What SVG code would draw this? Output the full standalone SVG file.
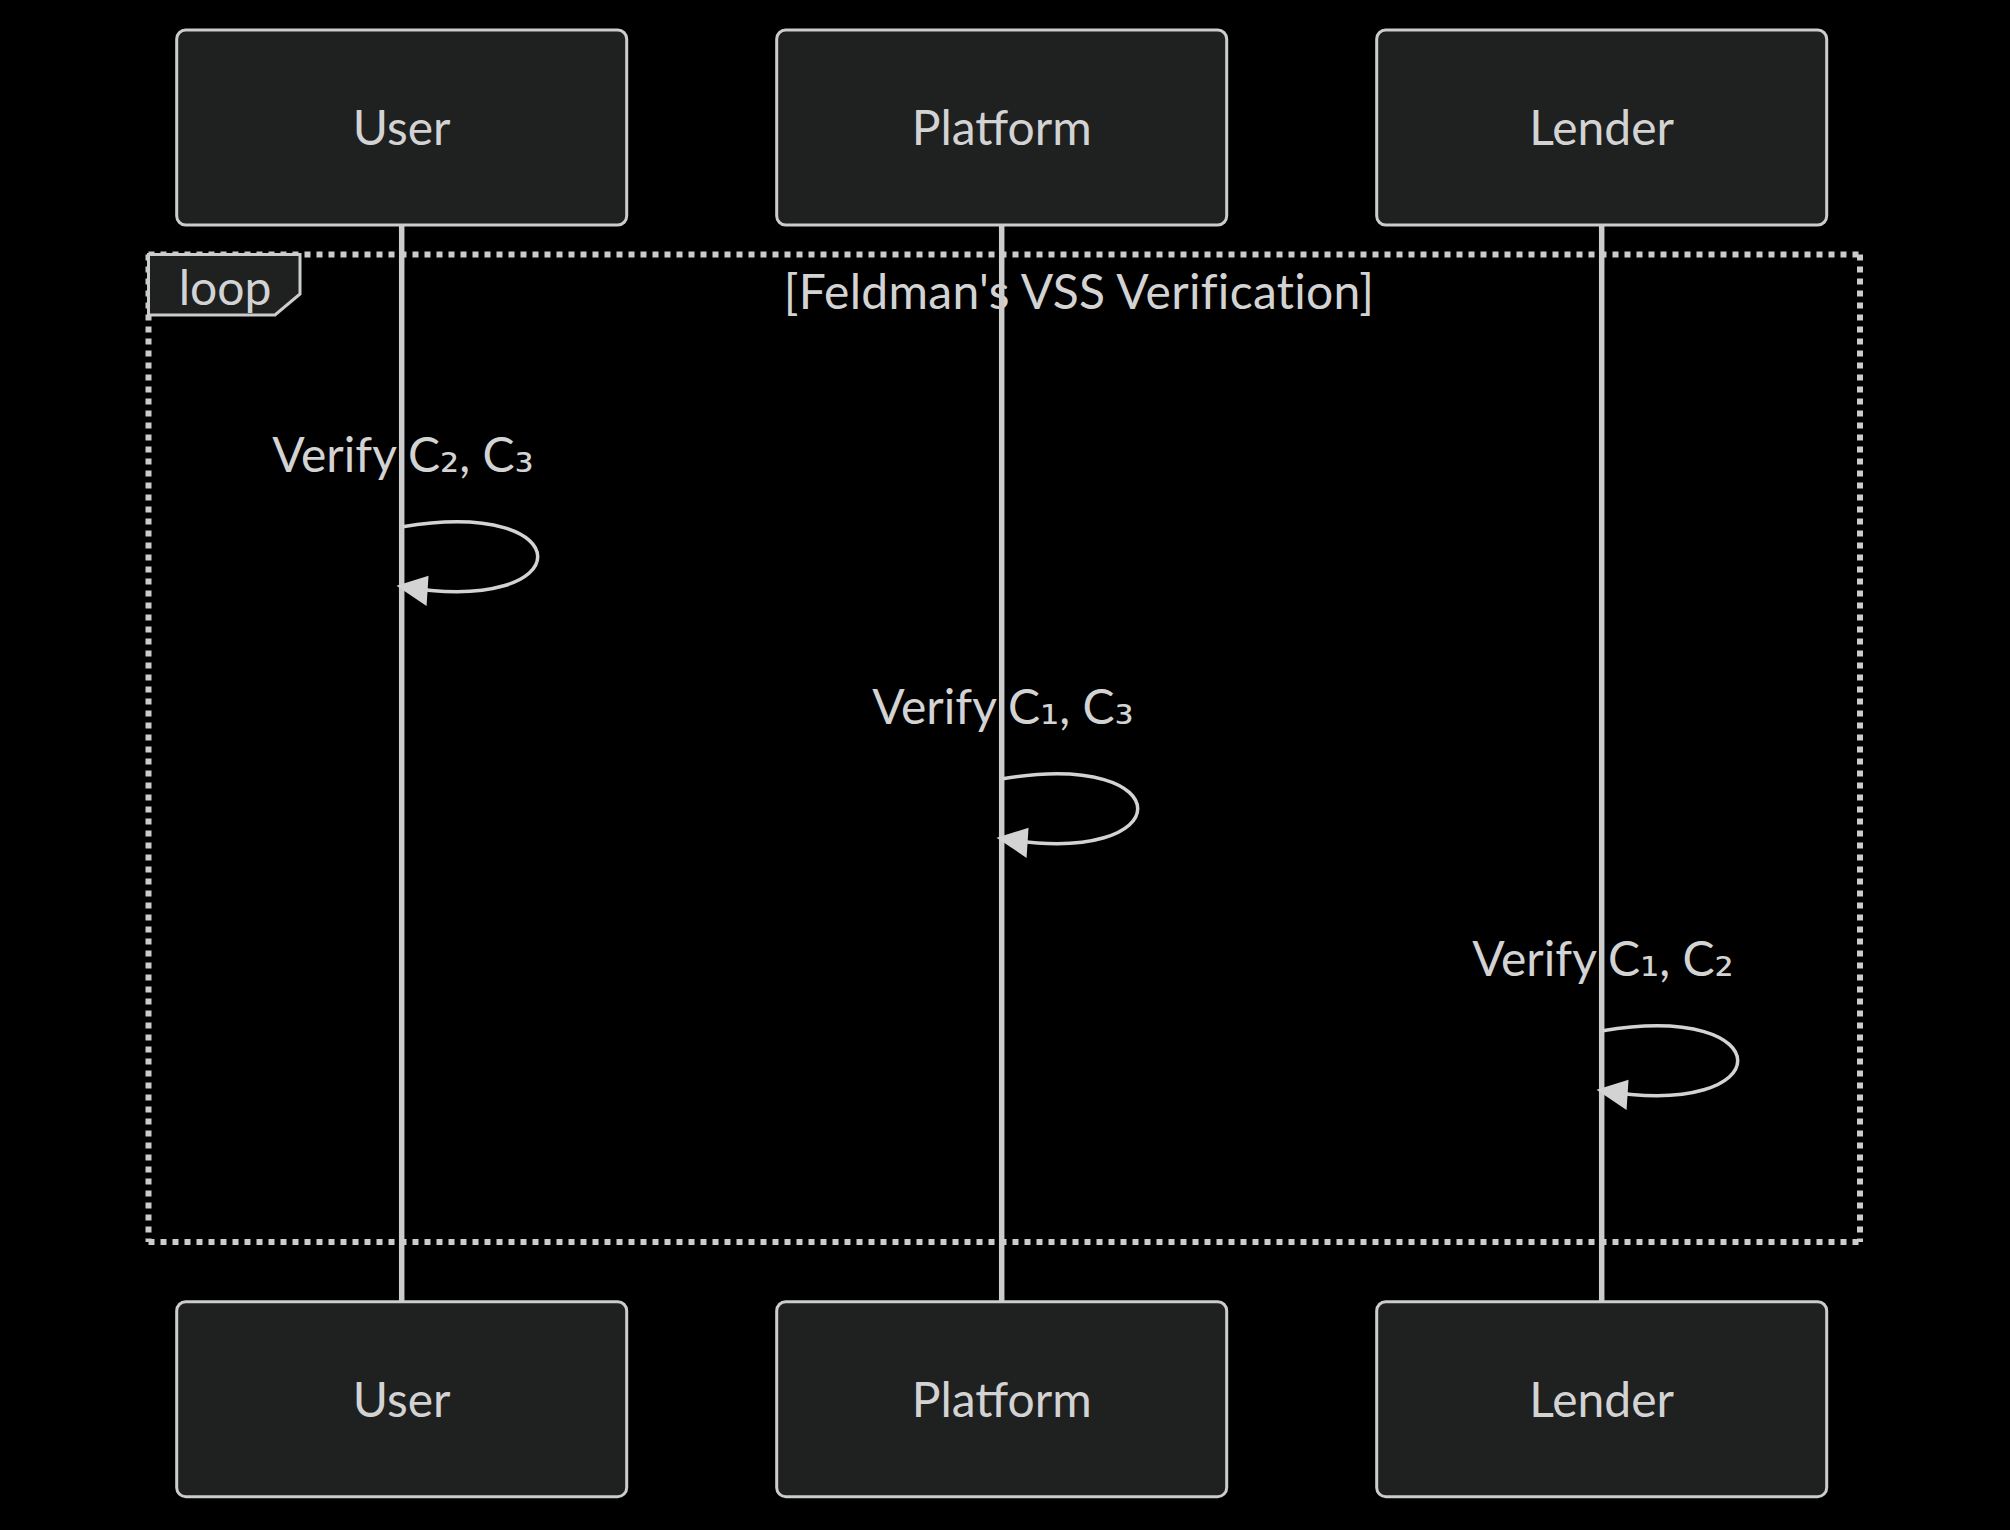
<svg xmlns="http://www.w3.org/2000/svg" width="2010" height="1530" viewBox="0 0 2010 1530">
  <style>
    .bg { fill: #000000; }
    .actor rect { fill: #1f2020; stroke: #cccccc; stroke-width: 3; }
    .txt { font-family: Lato, "DejaVu Sans", sans-serif; font-size: 48px; fill: #d3d3d3; text-anchor: middle; }
    .sub { font-family: "DejaVu Sans", sans-serif; }
    .lifeline { stroke: #cccccc; stroke-width: 5.5; }
    .loopline { stroke: #cccccc; stroke-width: 6; stroke-dasharray: 6 6; fill: none; }
    .labelbox { fill: #1f2020; stroke: #cccccc; stroke-width: 3; }
    .msg { fill: none; stroke: #d3d3d3; stroke-width: 3.5; marker-end: url(#arrowhead); }
  </style>
  <defs>
    <marker id="arrowhead" markerUnits="userSpaceOnUse" markerWidth="36" markerHeight="36" viewBox="-1 -1 12 12" refX="7.9" refY="5" orient="auto">
      <path d="M -1 0 L 10 5 L 0 10 z" fill="#d3d3d3" stroke="none"/>
    </marker>
  </defs>
  <rect class="bg" x="0" y="0" width="2010" height="1530"/>

  <g id="loop">
    <line class="loopline" x1="148.5" y1="254.5" x2="1860" y2="254.5"/>
    <line class="loopline" x1="1860" y1="254.5" x2="1860" y2="1242"/>
    <line class="loopline" x1="148.5" y1="1242" x2="1860" y2="1242"/>
    <line class="loopline" x1="148.5" y1="254.5" x2="148.5" y2="1242"/>
    <polygon class="labelbox" points="148.5,254.5 300,254.5 300,294 275,315 148.5,315"/>
    <text class="txt" x="225" y="305">loop</text>
    <text class="txt" x="1079" y="309" letter-spacing="0.3">[Feldman's VSS Verification]</text>
  </g>

  <g id="lifelines">
    <line class="lifeline" x1="401.7" y1="225" x2="401.7" y2="1301.7"/>
    <line class="lifeline" x1="1001.7" y1="225" x2="1001.7" y2="1301.7"/>
    <line class="lifeline" x1="1601.7" y1="225" x2="1601.7" y2="1301.7"/>
  </g>

  <g id="actor-user-top" class="actor">
    <rect x="176.7" y="30" width="450" height="195" rx="9" ry="9"/>
    <text class="txt" x="401.7" y="144.5">User</text>
  </g>
  <g id="actor-platform-top" class="actor">
    <rect x="776.7" y="30" width="450" height="195" rx="9" ry="9"/>
    <text class="txt" x="1001.7" y="144.5">Platform</text>
  </g>
  <g id="actor-lender-top" class="actor">
    <rect x="1376.7" y="30" width="450" height="195" rx="9" ry="9"/>
    <text class="txt" x="1601.7" y="144.5">Lender</text>
  </g>

  <g id="actor-user-bottom" class="actor">
    <rect x="176.7" y="1301.7" width="450" height="195" rx="9" ry="9"/>
    <text class="txt" x="401.7" y="1416.5">User</text>
  </g>
  <g id="actor-platform-bottom" class="actor">
    <rect x="776.7" y="1301.7" width="450" height="195" rx="9" ry="9"/>
    <text class="txt" x="1001.7" y="1416.5">Platform</text>
  </g>
  <g id="actor-lender-bottom" class="actor">
    <rect x="1376.7" y="1301.7" width="450" height="195" rx="9" ry="9"/>
    <text class="txt" x="1601.7" y="1416.5">Lender</text>
  </g>

  <g id="connectors">
    <g id="msg-user">
      <text class="txt" x="403" y="471.7">Verify C<tspan class="sub">₂</tspan>, C<tspan class="sub">₃</tspan></text>
      <path class="msg" d="M 402.7,526.7 C 582.7,496.7 582.7,616.7 402.7,586.7"/>
    </g>
    <g id="msg-platform">
      <text class="txt" x="1003" y="723.7">Verify C<tspan class="sub">₁</tspan>, C<tspan class="sub">₃</tspan></text>
      <path class="msg" d="M 1002.7,778.7 C 1182.7,748.7 1182.7,868.7 1002.7,838.7"/>
    </g>
    <g id="msg-lender">
      <text class="txt" x="1603" y="975.7">Verify C<tspan class="sub">₁</tspan>, C<tspan class="sub">₂</tspan></text>
      <path class="msg" d="M 1602.7,1030.7 C 1782.7,1000.7 1782.7,1120.7 1602.7,1090.7"/>
    </g>
  </g>
</svg>
